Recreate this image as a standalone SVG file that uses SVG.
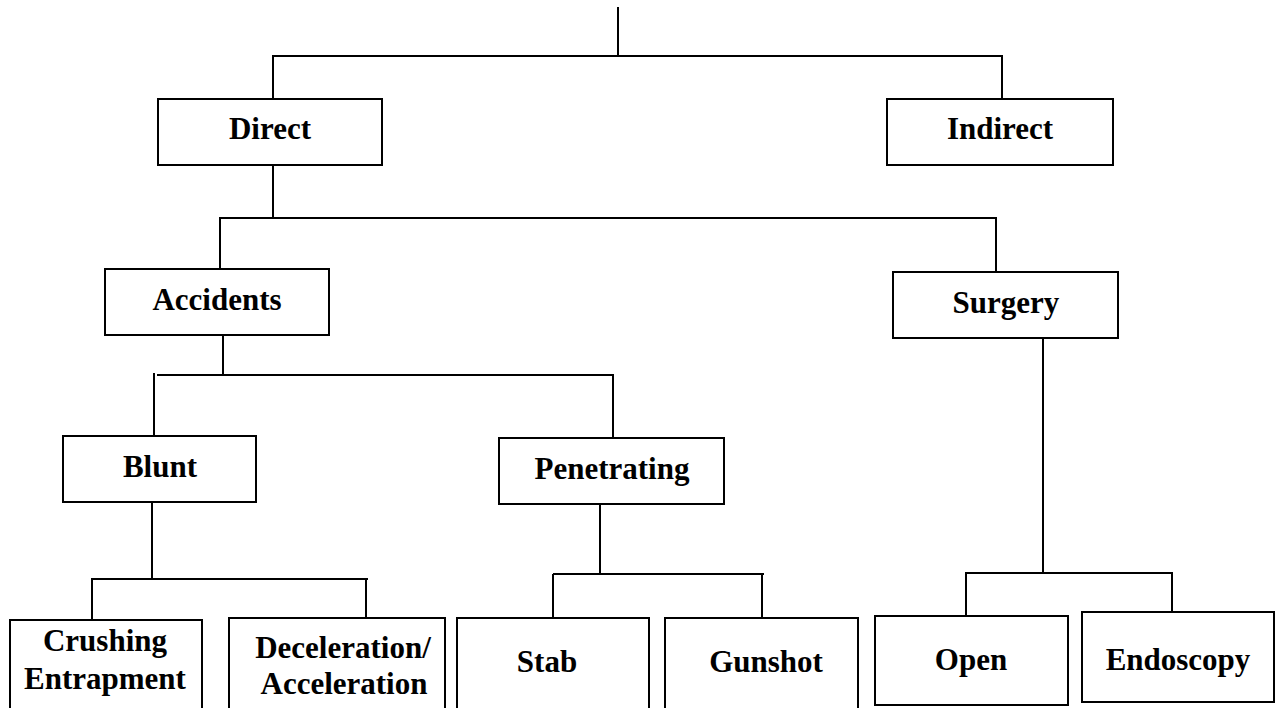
<svg xmlns="http://www.w3.org/2000/svg" width="1283" height="708" viewBox="0 0 1283 708">
<style>
.box{fill:#fff;stroke:#000;stroke-width:2}
.lbl{font-family:"Liberation Serif","Times New Roman",serif;font-weight:bold;font-size:31px;fill:#000;text-anchor:middle}
.con line{stroke:#000;stroke-width:2}
</style>
<rect width="1283" height="708" fill="#fff"/>
<g id="connectors" class="con">
<line x1="618" y1="7" x2="618" y2="56"/>
<line x1="272" y1="56" x2="1003" y2="56"/>
<line x1="273" y1="56" x2="273" y2="99"/>
<line x1="1002" y1="56" x2="1002" y2="99"/>
<line x1="273" y1="165" x2="273" y2="218"/>
<line x1="219" y1="218" x2="997" y2="218"/>
<line x1="220" y1="218" x2="220" y2="269"/>
<line x1="996" y1="218" x2="996" y2="272"/>
<line x1="223" y1="335" x2="223" y2="375"/>
<line x1="157" y1="375" x2="614" y2="375"/>
<line x1="154" y1="373" x2="154" y2="436"/>
<line x1="613" y1="375" x2="613" y2="438"/>
<line x1="152" y1="502" x2="152" y2="579"/>
<line x1="91" y1="579" x2="368" y2="579"/>
<line x1="92" y1="579" x2="92" y2="620"/>
<line x1="366" y1="579" x2="366" y2="618"/>
<line x1="600" y1="504" x2="600" y2="574"/>
<line x1="553" y1="574" x2="764" y2="574"/>
<line x1="553" y1="574" x2="553" y2="618"/>
<line x1="762" y1="574" x2="762" y2="618"/>
<line x1="1043" y1="338" x2="1043" y2="573"/>
<line x1="965" y1="573" x2="1173" y2="573"/>
<line x1="966" y1="573" x2="966" y2="616"/>
<line x1="1172" y1="573" x2="1172" y2="612"/>
</g>
<g id="direct"><rect class="box" x="158" y="99" width="224" height="66"/><text class="lbl" x="270" y="139">Direct</text></g>
<g id="indirect"><rect class="box" x="887" y="99" width="226" height="66"/><text class="lbl" x="1000" y="139">Indirect</text></g>
<g id="accidents"><rect class="box" x="105" y="269" width="224" height="66"/><text class="lbl" x="217" y="310">Accidents</text></g>
<g id="surgery"><rect class="box" x="893" y="272" width="225" height="66"/><text class="lbl" x="1006" y="313">Surgery</text></g>
<g id="blunt"><rect class="box" x="63" y="436" width="193" height="66"/><text class="lbl" x="160" y="477">Blunt</text></g>
<g id="penetrating"><rect class="box" x="499" y="438" width="225" height="66"/><text class="lbl" x="612" y="479">Penetrating</text></g>
<g id="crushing"><rect class="box" x="10" y="620" width="192" height="92"/><text class="lbl" x="105" y="651">Crushing</text><text class="lbl" x="105" y="689">Entrapment</text></g>
<g id="deceleration"><rect class="box" x="229" y="618" width="216" height="94"/><text class="lbl" x="343" y="658">Deceleration/</text><text class="lbl" x="344" y="694">Acceleration</text></g>
<g id="stab"><rect class="box" x="457" y="618" width="192" height="94"/><text class="lbl" x="547" y="672">Stab</text></g>
<g id="gunshot"><rect class="box" x="665" y="618" width="193" height="94"/><text class="lbl" x="766" y="672">Gunshot</text></g>
<g id="open"><rect class="box" x="875" y="616" width="193" height="89"/><text class="lbl" x="971" y="670">Open</text></g>
<g id="endoscopy"><rect class="box" x="1082" y="612" width="192" height="90"/><text class="lbl" x="1178" y="670">Endoscopy</text></g>
</svg>
